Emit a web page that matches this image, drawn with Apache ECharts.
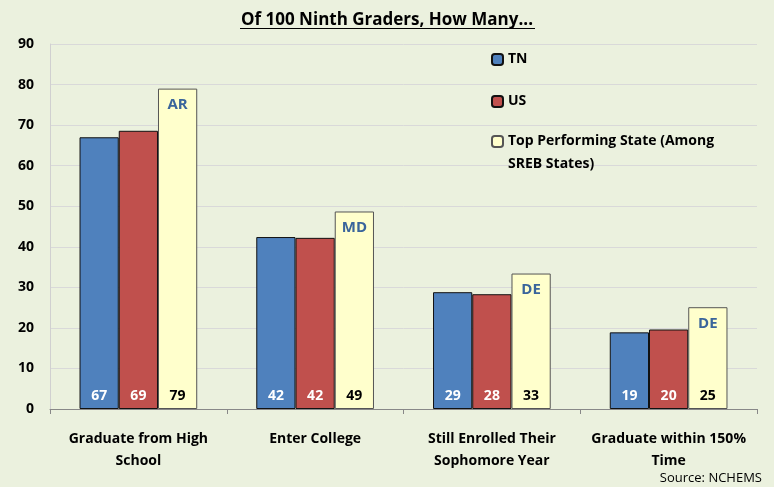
<!DOCTYPE html>
<html>
<head>
<meta charset="utf-8">
<script src="https://cdn.jsdelivr.net/npm/echarts@6/dist/echarts.min.js"></script>
<style>
  html, body { margin: 0; padding: 0; background: #EBF1DE; }
  #chart { width: 774px; height: 487px; }
</style>
</head>
<body>
<div id="chart"></div>
<script>
// chart data
const categories = ['Graduate from High\nSchool', 'Enter College', 'Still Enrolled Their\nSophomore Year', 'Graduate within 150%\nTime'];
const tnValues = [67, 42.4, 28.8, 18.9];
const usValues = [68.6, 42.2, 28.3, 19.6];
const topValues = [79, 48.7, 33.4, 25.1];
const topStates = ['AR', 'MD', 'DE', 'DE'];
const yTicks = [0, 10, 20, 30, 40, 50, 60, 70, 80, 90];

const FONT = '"Open Sans"';
const catGap = 0.334;

const chart = echarts.init(document.getElementById('chart'));

const valueLabel = (color) => ({
  show: true,
  position: 'insideBottom',
  distance: 6,
  color: color,
  fontFamily: FONT,
  fontWeight: 'bold',
  fontSize: 14,
  formatter: (p) => Math.round(p.value)
});

const legendBase = {
  orient: 'vertical',
  left: 491,
  padding: 0,
  itemWidth: 11,
  itemHeight: 11,
  selectedMode: false,
  textStyle: { fontFamily: FONT, fontWeight: 'bold', fontSize: 14, color: '#000', lineHeight: 23 }
};

const option = {
  animation: false,
  backgroundColor: '#EBF1DE',
  title: [
    {
      text: 'Of 100 Ninth Graders, How Many...',
      left: 'center',
      top: 7,
      textStyle: { fontFamily: FONT, fontWeight: 'bold', fontSize: 17, color: '#000' }
    },
    {
      text: 'Source: NCHEMS',
      right: 12,
      top: 472,
      padding: 0,
      textStyle: { fontFamily: FONT, fontWeight: 'normal', fontSize: 13, color: '#000' }
    }
  ],
  graphic: [
    { type: 'line', shape: { x1: 240, y1: 28.5, x2: 535, y2: 28.5 }, style: { stroke: '#000', lineWidth: 1.2 } }
  ],
  legend: [
    Object.assign({}, legendBase, { top: 48, data: ['TN'] }),
    Object.assign({}, legendBase, { top: 90, data: ['US'] }),
    Object.assign({}, legendBase, {
      top: 107,
      data: ['Top'],
      // leading blank line keeps the icon level with the first text line
      formatter: () => ' \nTop Performing State (Among\nSREB States)'
    })
  ],
  grid: { left: 50, right: 17, top: 44, bottom: 78 },
  xAxis: {
    type: 'category',
    data: categories,
    axisLine: { lineStyle: { color: '#888', width: 1 } },
    axisTick: { show: true, length: 5, lineStyle: { color: '#888' } },
    axisLabel: {
      margin: 19,
      color: '#000',
      fontFamily: FONT,
      fontWeight: 'bold',
      fontSize: 14,
      lineHeight: 22,
      interval: 0
    }
  },
  yAxis: {
    type: 'value',
    min: yTicks[0],
    max: yTicks[yTicks.length - 1],
    interval: 10,
    axisLine: { show: true, lineStyle: { color: '#D0D0D0' } },
    axisTick: { show: false },
    splitLine: { lineStyle: { color: '#D9D9D9' } },
    axisLabel: {
      margin: 16,
      color: '#000',
      fontFamily: FONT,
      fontWeight: 'bold',
      fontSize: 14
    }
  },
  series: [
    {
      name: 'TN',
      type: 'bar',
      data: tnValues,
      barGap: '0%',
      barCategoryGap: (catGap * 100) + '%',
      itemStyle: { color: '#4F81BD', borderColor: '#111', borderWidth: 1 },
      label: valueLabel('#fff')
    },
    {
      name: 'US',
      type: 'bar',
      data: usValues,
      itemStyle: { color: '#C0504D', borderColor: '#111', borderWidth: 1 },
      label: valueLabel('#fff')
    },
    {
      name: 'Top',
      type: 'bar',
      data: topValues,
      itemStyle: { color: '#FFFFCC', borderColor: '#555', borderWidth: 1 },
      label: valueLabel('#000')
    },
    {
      // state name inside the top of the yellow bar
      type: 'custom',
      data: topValues.map((v, i) => [i, v]),
      z: 5,
      renderItem: (params, api) => {
        const pt = api.coord([api.value(0), api.value(1)]);
        const band = api.size([1, 0])[0];
        const bw = band * (1 - catGap) / 3;
        return {
          type: 'text',
          x: pt[0] + bw,
          y: pt[1] + 9,
          style: {
            text: topStates[params.dataIndex],
            align: 'center',
            verticalAlign: 'top',
            fill: '#3A659B',
            fontFamily: FONT,
            fontWeight: 'bold',
            fontSize: 15
          }
        };
      }
    }
  ]
};

chart.setOption(option);
</script>
</body>
</html>
